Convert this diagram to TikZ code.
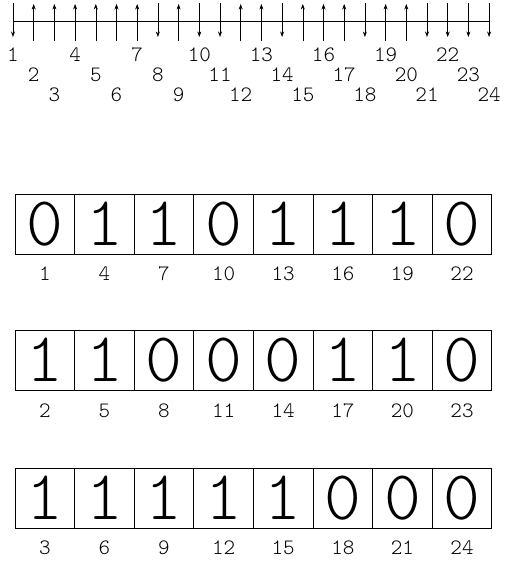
\documentclass[tikz,border=0pt]{standalone}
\usepackage{fontspec}
\setmonofont{Latin Modern Mono Light}
\usetikzlibrary{arrows.meta}
\begin{document}
\begin{tikzpicture}[x=1pt,y=-1pt,
  bitarrow/.style={line width=0.6pt,-{Stealth[length=5.5pt,width=4pt]}},
  axisline/.style={line width=0.7pt},
  numlabel/.style={font=\ttfamily\fontsize{22}{22}\selectfont, inner sep=0pt},
  cell/.style={draw, line width=0.8pt, minimum width=59.6pt, minimum height=60pt,
    inner sep=0pt, font=\ttfamily\fontsize{70}{70}\selectfont},
  celllabel/.style={font=\ttfamily\fontsize{22}{22}\selectfont, inner sep=0pt}]
\useasboundingbox (0,0) rectangle (505,565);
% top: arrow sequence
\coordinate (axL) at (13,21);
\coordinate (axR) at (489,21);
\draw[axisline] (axL) -- (axR);
\foreach \i/\b in {1/0,2/1,3/1,4/1,5/1,6/1,7/1,8/0,9/1,10/0,11/0,12/1,
                   13/1,14/0,15/1,16/1,17/1,18/0,19/1,20/1,21/0,22/0,23/0,24/0}{
  \pgfmathsetmacro\xx{13+(\i-1)*20.7}
  \pgfmathtruncatemacro\rr{mod(\i-1,3)}
  \ifnum\b=1
    \coordinate (lo\i) at (\xx,41);
    \coordinate (hi\i) at (\xx,4);
    \draw[bitarrow] (lo\i) -- (hi\i);
  \else
    \coordinate (hi\i) at (\xx,3);
    \coordinate (lo\i) at (\xx,37);
    \draw[bitarrow] (hi\i) -- (lo\i);
  \fi
  \node[numlabel] (t\i) at (\xx,{55+20*\rr}) {\i};
}
% boxes
\foreach \r/\cy/\ly/\bits in {1/224/274/{0,1,1,0,1,1,1,0},
                              2/360/411/{1,1,0,0,0,1,1,0},
                              3/498/548/{1,1,1,1,1,0,0,0}}{
  \foreach \b [count=\k from 0] in \bits {
    \pgfmathsetmacro\cx{15+59.6*(\k+0.5)}
    \pgfmathtruncatemacro\n{3*\k+\r}
    \node[cell] (c\n) at (\cx,\cy) {\b};
    \node[celllabel] (l\n) at (\cx,\ly) {\n};
  }
}
\end{tikzpicture}
\end{document}
